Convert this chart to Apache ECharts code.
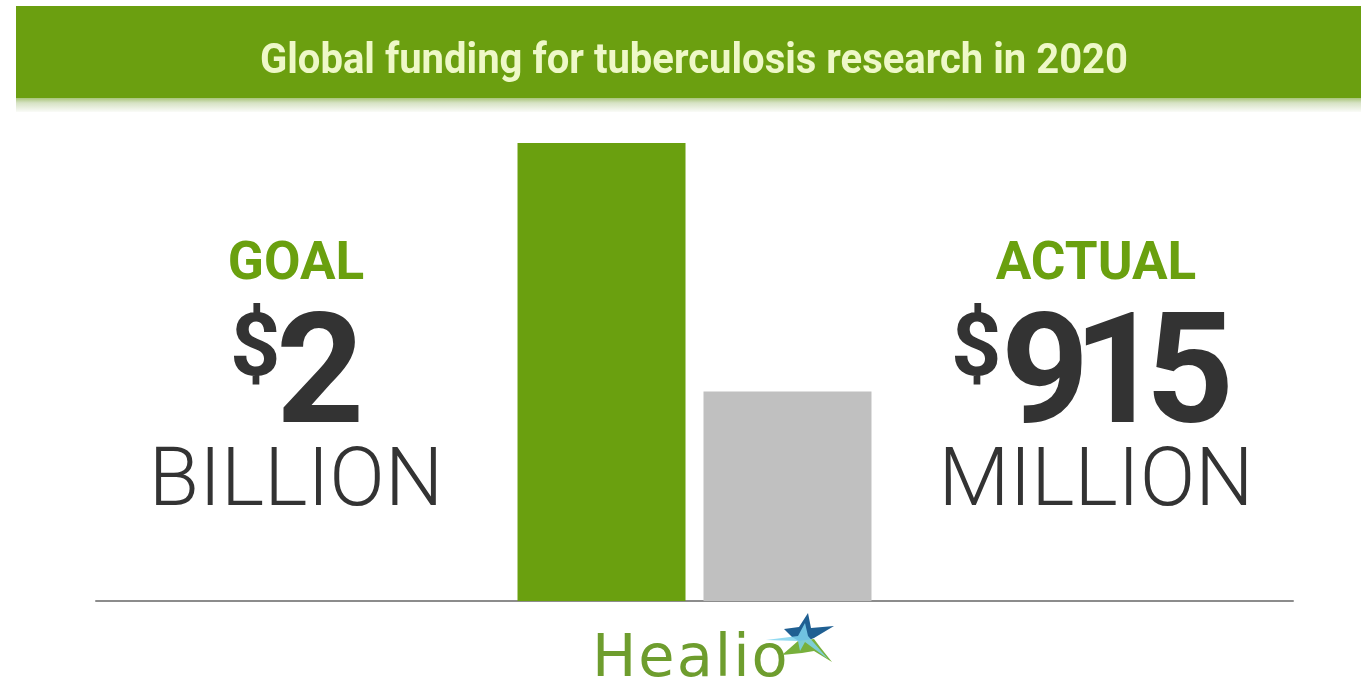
<!DOCTYPE html>
<html>
<head>
<meta charset="utf-8">
<title>Global funding for tuberculosis research in 2020</title>
<script src="https://cdn.jsdelivr.net/npm/echarts@6/dist/echarts.min.js"></script>
<style>
  html, body { margin: 0; padding: 0; background: #ffffff; }
  #chart { width: 1361px; height: 690px; }
</style>
</head>
<body>
<div id="chart"></div>
<script>
// Funding figures, in millions of US dollars
const categories = ['GOAL', 'ACTUAL'];
const fundingMillions = [2000, 915];
const amountLabels = ['2', '915'];
const unitLabels = ['BILLION', 'MILLION'];
const yearLabel = ['2020'];
const titleText = 'Global funding for tuberculosis research in 2020';
const brandText = 'Healio';

const GREEN = '#6aa00f';
const GREY = '#c0c0c0';
const DARK = '#333333';

const chart = echarts.init(document.getElementById('chart'), null, { renderer: 'canvas' });

// text measuring helper
const measureCtx = document.createElement('canvas').getContext('2d');
function textWidth(str, font) {
  measureCtx.font = font;
  return measureCtx.measureText(str).width;
}

// one text element per character, so spacing can be tightened or loosened
function trackedText(str, left, y, font, fill, tracking, z) {
  const out = [];
  let cx = left;
  str.split('').forEach(ch => {
    out.push({
      type: 'text', z: z,
      style: { text: ch, x: cx, y: y, align: 'left', verticalAlign: 'middle', font: font, fill: fill }
    });
    cx += textWidth(ch, font) + tracking;
  });
  return out;
}

// Text blocks on either side of the bars
const sideX = [296, 1096];
const dollarLeft = [230, 951];
const numberLeft = [276, 1001];
const NUMBER_FONT = 'bold 154px Roboto';
const NUMBER_TRACKING = -16;

const sideText = [];
categories.forEach((name, i) => {
  sideText.push({
    type: 'text', z: 10,
    style: {
      text: name, x: sideX[i], y: 266,
      align: 'center', verticalAlign: 'middle',
      font: 'bold 53px Roboto', fill: GREEN
    }
  });
  sideText.push({
    type: 'text', z: 10,
    style: {
      text: '$', x: dollarLeft[i], y: 353,
      align: 'left', verticalAlign: 'middle',
      font: 'bold 88px Roboto', fill: DARK
    }
  });
  sideText.push(...trackedText(amountLabels[i], numberLeft[i], 383, NUMBER_FONT, DARK, NUMBER_TRACKING, 10));
  sideText.push({
    type: 'text', z: 10,
    style: {
      text: unitLabels[i], x: sideX[i], y: 484,
      align: 'center', verticalAlign: 'middle',
      font: '300 82px Roboto', fill: DARK
    }
  });
});

// condensed header title
const TITLE_FONT = 'bold 42px Roboto';
const titleScale = 868 / textWidth(titleText, TITLE_FONT);

const option = {
  backgroundColor: '#ffffff',
  animation: false,
  graphic: [
    // header band
    {
      type: 'rect', z: 1,
      shape: { x: 16, y: 6, width: 1345, height: 92 },
      style: { fill: '#6b9f10' }
    },
    {
      type: 'rect', z: 1,
      shape: { x: 16, y: 98, width: 1345, height: 14 },
      style: {
        fill: {
          type: 'linear', x: 0, y: 0, x2: 0, y2: 1,
          colorStops: [
            { offset: 0, color: '#a9c57a' },
            { offset: 0.35, color: '#d6e2c4' },
            { offset: 1, color: '#fafbf8' }
          ]
        }
      }
    },
    {
      type: 'text', z: 10,
      x: 694, y: 62, scaleX: titleScale,
      style: {
        text: titleText, x: 0, y: 0,
        align: 'center', verticalAlign: 'middle',
        font: TITLE_FONT, fill: '#eef8c8',
        shadowColor: 'rgba(240,255,200,0.6)', shadowBlur: 3
      }
    },
    ...sideText,
    // logo word mark
    ...trackedText(brandText, 592, 661, '59px "DejaVu Sans"', '#6e9d2e', 2, 10),
    // logo star
    {
      type: 'group', x: 2, y: -5, z: 11,
      children: [
        {
          type: 'polygon', z: 11,
          shape: { points: [[782, 634], [797, 632], [806, 618], [809, 633], [832, 631], [812, 643], [800, 648], [790, 642]] },
          style: { fill: '#1f5f92' }
        },
        {
          type: 'polygon', z: 11,
          shape: { points: [[780, 660], [796, 646], [812, 644], [818, 652], [830, 667], [812, 656], [800, 658]] },
          style: { fill: '#78b03c' }
        },
        {
          type: 'polygon', z: 12,
          shape: { points: [[764, 645], [796, 641], [803, 628], [806, 641], [826, 664], [803, 647], [798, 656], [796, 646]] },
          style: { fill: '#7fd3ef', opacity: 0.85 }
        }
      ]
    }
  ],
  grid: { left: 96, right: 68, top: 143, bottom: 89 },
  xAxis: {
    type: 'category',
    data: yearLabel,
    axisLine: { show: true, lineStyle: { color: '#8c8c8c', width: 2 } },
    axisTick: { show: false },
    axisLabel: { show: false },
    splitLine: { show: false }
  },
  yAxis: {
    type: 'value',
    min: 0,
    max: 2000,
    show: false,
    splitLine: { show: false }
  },
  series: categories.map((name, i) => ({
    name: name,
    type: 'bar',
    data: [fundingMillions[i]],
    barWidth: 168,
    barGap: '10.7%',
    itemStyle: { color: i === 0 ? GREEN : GREY },
    z: 2
  }))
};

chart.setOption(option);
</script>
</body>
</html>
